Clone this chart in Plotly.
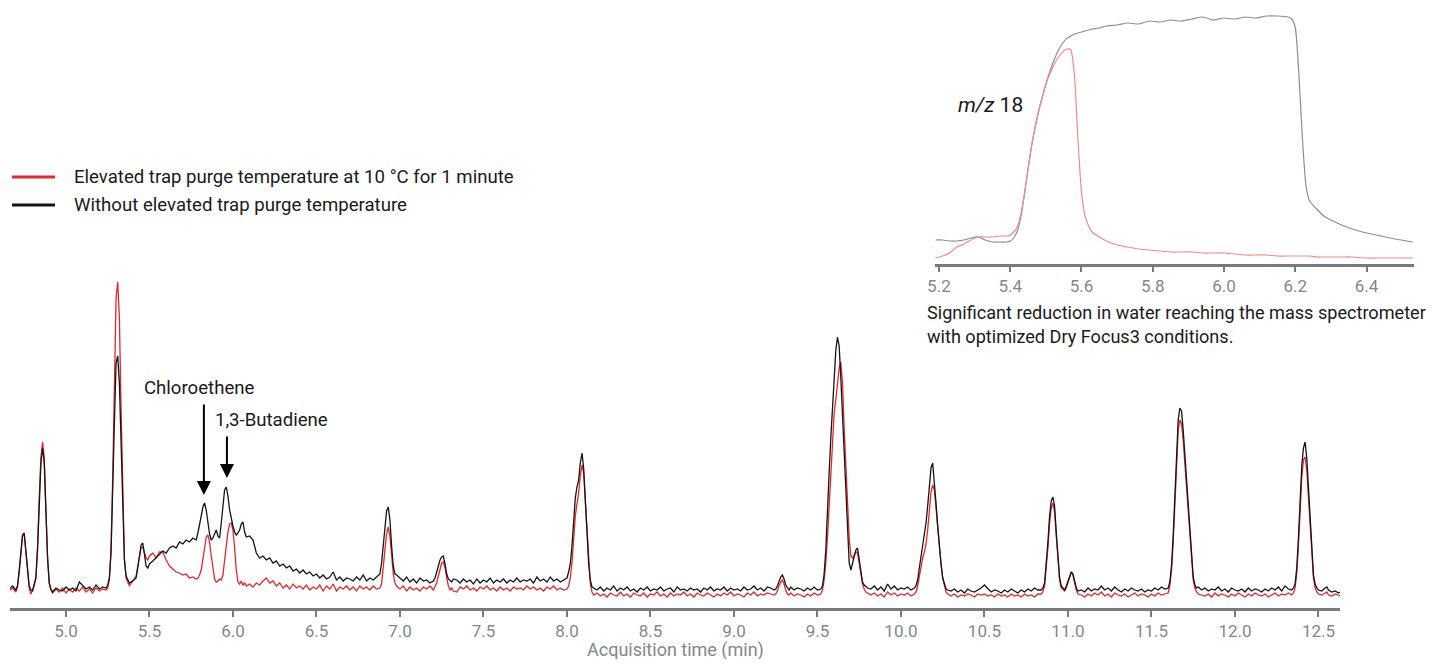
import plotly.graph_objects as go

# ---------------- main chromatogram data (acquisition time in min, signal in arbitrary units) ----------------
time_min = [
    4.66, 4.68, 4.70, 4.71, 4.72, 4.73, 4.74, 4.75, 4.76, 4.77,
    4.78, 4.79, 4.80, 4.81, 4.82, 4.83, 4.84, 4.85, 4.86, 4.87,
    4.88, 4.89, 4.90, 4.91, 4.92, 4.94, 4.96, 4.98, 5.00, 5.02,
    5.04, 5.06, 5.08, 5.10, 5.12, 5.14, 5.16, 5.18, 5.20, 5.22,
    5.24, 5.25, 5.26, 5.27, 5.28, 5.29, 5.30, 5.31, 5.32, 5.33,
    5.34, 5.35, 5.36, 5.37, 5.38, 5.40, 5.42, 5.43, 5.44, 5.45,
    5.46, 5.47, 5.48, 5.49, 5.50, 5.52, 5.54, 5.56, 5.58, 5.60,
    5.62, 5.64, 5.66, 5.68, 5.70, 5.72, 5.74, 5.76, 5.78, 5.79,
    5.80, 5.81, 5.82, 5.83, 5.84, 5.85, 5.86, 5.87, 5.88, 5.89,
    5.90, 5.91, 5.92, 5.93, 5.94, 5.95, 5.96, 5.97, 5.98, 5.99,
    6.00, 6.01, 6.02, 6.03, 6.04, 6.05, 6.06, 6.07, 6.08, 6.10,
    6.12, 6.14, 6.16, 6.18, 6.20, 6.22, 6.24, 6.26, 6.28, 6.30,
    6.32, 6.34, 6.36, 6.38, 6.40, 6.42, 6.44, 6.46, 6.48, 6.50,
    6.52, 6.54, 6.56, 6.58, 6.60, 6.62, 6.64, 6.66, 6.68, 6.70,
    6.72, 6.74, 6.76, 6.78, 6.80, 6.82, 6.84, 6.86, 6.88, 6.89,
    6.90, 6.91, 6.92, 6.93, 6.94, 6.95, 6.96, 6.97, 6.98, 7.00,
    7.02, 7.04, 7.06, 7.08, 7.10, 7.12, 7.14, 7.16, 7.18, 7.20,
    7.21, 7.22, 7.23, 7.24, 7.25, 7.26, 7.27, 7.28, 7.29, 7.30,
    7.31, 7.32, 7.34, 7.36, 7.38, 7.40, 7.42, 7.44, 7.46, 7.48,
    7.50, 7.52, 7.54, 7.56, 7.58, 7.60, 7.62, 7.64, 7.66, 7.68,
    7.70, 7.72, 7.74, 7.76, 7.78, 7.80, 7.82, 7.84, 7.86, 7.88,
    7.90, 7.92, 7.94, 7.96, 7.98, 8.00, 8.01, 8.02, 8.03, 8.04,
    8.05, 8.06, 8.07, 8.08, 8.09, 8.10, 8.11, 8.12, 8.13, 8.14,
    8.15, 8.16, 8.18, 8.20, 8.22, 8.24, 8.26, 8.28, 8.30, 8.32,
    8.34, 8.36, 8.38, 8.40, 8.42, 8.44, 8.46, 8.48, 8.50, 8.52,
    8.54, 8.56, 8.58, 8.60, 8.62, 8.64, 8.66, 8.68, 8.70, 8.72,
    8.74, 8.76, 8.78, 8.80, 8.82, 8.84, 8.86, 8.88, 8.90, 8.92,
    8.94, 8.96, 8.98, 9.00, 9.02, 9.04, 9.06, 9.08, 9.10, 9.12,
    9.14, 9.16, 9.18, 9.20, 9.22, 9.24, 9.25, 9.26, 9.27, 9.28,
    9.29, 9.30, 9.31, 9.32, 9.33, 9.34, 9.36, 9.38, 9.40, 9.42,
    9.44, 9.46, 9.48, 9.50, 9.52, 9.53, 9.54, 9.55, 9.56, 9.57,
    9.58, 9.59, 9.60, 9.61, 9.62, 9.63, 9.64, 9.65, 9.66, 9.67,
    9.68, 9.69, 9.70, 9.71, 9.72, 9.73, 9.74, 9.75, 9.76, 9.77,
    9.78, 9.79, 9.80, 9.82, 9.84, 9.86, 9.88, 9.90, 9.92, 9.94,
    9.96, 9.98, 10.00, 10.02, 10.04, 10.06, 10.08, 10.09, 10.10, 10.11,
    10.12, 10.13, 10.14, 10.15, 10.16, 10.17, 10.18, 10.19, 10.20, 10.21,
    10.22, 10.23, 10.24, 10.25, 10.26, 10.27, 10.28, 10.30, 10.32, 10.34,
    10.36, 10.38, 10.40, 10.42, 10.44, 10.46, 10.48, 10.50, 10.52, 10.54,
    10.56, 10.58, 10.60, 10.62, 10.64, 10.66, 10.68, 10.70, 10.72, 10.74,
    10.76, 10.78, 10.80, 10.82, 10.84, 10.85, 10.86, 10.87, 10.88, 10.89,
    10.90, 10.91, 10.92, 10.93, 10.94, 10.95, 10.96, 10.97, 10.98, 10.99,
    11.00, 11.01, 11.02, 11.03, 11.04, 11.05, 11.06, 11.08, 11.10, 11.12,
    11.14, 11.16, 11.18, 11.20, 11.22, 11.24, 11.26, 11.28, 11.30, 11.32,
    11.34, 11.36, 11.38, 11.40, 11.42, 11.44, 11.46, 11.48, 11.50, 11.52,
    11.54, 11.56, 11.58, 11.60, 11.61, 11.62, 11.63, 11.64, 11.65, 11.66,
    11.67, 11.68, 11.69, 11.70, 11.71, 11.72, 11.73, 11.74, 11.75, 11.76,
    11.77, 11.78, 11.80, 11.82, 11.84, 11.86, 11.88, 11.90, 11.92, 11.94,
    11.96, 11.98, 12.00, 12.02, 12.04, 12.06, 12.08, 12.10, 12.12, 12.14,
    12.16, 12.18, 12.20, 12.22, 12.24, 12.26, 12.28, 12.30, 12.32, 12.34,
    12.35, 12.36, 12.37, 12.38, 12.39, 12.40, 12.41, 12.42, 12.43, 12.44,
    12.45, 12.46, 12.47, 12.48, 12.49, 12.50, 12.52, 12.54, 12.55, 12.56,
    12.58, 12.60, 12.62, 12.63,
]

elevated_signal = [
    17, 20, 16, 22, 35, 55, 72, 74, 55, 32,
    20, 14, 19, 22, 30, 62, 110, 150, 166, 150,
    100, 50, 24, 18, 15, 19, 16, 20, 15, 19,
    16, 20, 17, 21, 16, 19, 15, 20, 17, 19,
    18, 20, 28, 60, 130, 230, 310, 326, 290, 200,
    110, 50, 30, 25, 22, 27, 32, 42, 52, 60,
    61, 54, 50, 48, 52, 55, 50, 56, 56, 48,
    42, 39, 36, 35, 33, 34, 30, 31, 29, 30,
    33, 38, 50, 62, 71, 73, 66, 52, 38, 29,
    26, 27, 29, 28, 33, 45, 62, 76, 84, 85,
    78, 60, 38, 26, 24, 27, 23, 25, 22, 24,
    21, 25, 23, 27, 30, 25, 27, 22, 25, 20,
    23, 19, 24, 20, 22, 19, 23, 18, 21, 19,
    23, 17, 22, 19, 24, 17, 21, 19, 22, 18,
    21, 17, 22, 19, 21, 18, 22, 19, 20, 24,
    38, 58, 74, 81, 72, 52, 34, 25, 22, 19,
    22, 17, 21, 18, 20, 17, 21, 19, 22, 18,
    21, 25, 32, 40, 45, 46, 40, 30, 22, 18,
    20, 17, 16, 21, 19, 22, 18, 20, 17, 21,
    19, 22, 18, 20, 17, 21, 18, 20, 17, 21,
    19, 20, 18, 22, 19, 21, 18, 20, 17, 21,
    19, 22, 18, 20, 18, 19, 22, 30, 45, 68,
    92, 104, 115, 132, 143, 135, 108, 72, 42, 24,
    16, 13, 15, 12, 14, 11, 15, 13, 12, 16,
    12, 14, 11, 15, 13, 12, 15, 11, 14, 13,
    16, 12, 14, 11, 15, 12, 14, 13, 16, 12,
    14, 11, 15, 13, 12, 15, 13, 11, 14, 12,
    15, 13, 16, 12, 14, 13, 11, 15, 13, 16,
    12, 14, 13, 15, 14, 13, 14, 17, 22, 26,
    28, 24, 18, 14, 13, 15, 12, 14, 13, 11,
    14, 12, 15, 13, 14, 18, 28, 45, 70, 105,
    140, 170, 195, 208, 225, 240, 246, 225, 180, 145,
    110, 70, 52, 50, 53, 56, 55, 45, 32, 24,
    19, 16, 15, 13, 15, 12, 14, 11, 16, 13,
    15, 12, 14, 13, 15, 12, 14, 16, 22, 32,
    42, 50, 56, 64, 78, 98, 116, 123, 118, 100,
    80, 60, 44, 30, 21, 16, 14, 12, 14, 11,
    13, 12, 14, 13, 11, 14, 13, 14, 12, 13,
    11, 14, 12, 13, 11, 14, 12, 13, 11, 14,
    12, 13, 11, 14, 14, 16, 22, 38, 60, 85,
    100, 105, 96, 72, 46, 28, 20, 18, 17, 20,
    26, 32, 36, 33, 25, 18, 14, 13, 11, 14,
    12, 15, 13, 16, 12, 14, 11, 15, 13, 12,
    14, 11, 13, 15, 12, 14, 13, 11, 14, 12,
    15, 13, 14, 15, 22, 38, 65, 100, 145, 178,
    188, 184, 168, 145, 125, 100, 70, 46, 28, 20,
    16, 14, 13, 12, 14, 11, 15, 12, 14, 13,
    11, 14, 12, 15, 13, 11, 14, 12, 15, 13,
    12, 14, 11, 13, 15, 12, 14, 13, 15, 13,
    15, 20, 35, 62, 98, 130, 148, 151, 138, 110,
    82, 52, 30, 20, 16, 14, 13, 15, 16, 13,
    12, 14, 13, 12,
]

standard_signal = [
    19, 22, 18, 22, 38, 58, 73, 75, 56, 33,
    22, 18, 17, 24, 30, 58, 104, 145, 160, 145,
    96, 50, 25, 19, 16, 20, 18, 17, 21, 18,
    20, 17, 26, 22, 19, 21, 18, 23, 19, 21,
    20, 23, 30, 55, 110, 185, 245, 252, 225, 165,
    95, 48, 32, 28, 25, 27, 30, 40, 52, 63,
    65, 55, 42, 40, 44, 47, 50, 54, 57, 55,
    60, 62, 60, 66, 64, 68, 66, 70, 68, 75,
    82, 92, 101, 105, 98, 85, 74, 68, 70, 74,
    78, 72, 70, 85, 105, 118, 121, 112, 98, 88,
    82, 76, 73, 75, 78, 84, 86, 76, 71, 72,
    68, 55, 50, 52, 48, 50, 45, 47, 42, 44,
    40, 42, 37, 39, 35, 38, 34, 36, 32, 34,
    30, 33, 29, 31, 36, 28, 31, 27, 30, 29,
    27, 31, 28, 33, 27, 30, 28, 31, 34, 45,
    62, 82, 97, 101, 88, 62, 42, 34, 33, 30,
    27, 31, 26, 29, 25, 30, 27, 28, 25, 27,
    30, 36, 42, 48, 51, 52, 44, 34, 29, 27,
    26, 29, 28, 25, 29, 26, 28, 24, 29, 25,
    28, 26, 30, 25, 28, 26, 29, 25, 28, 26,
    30, 26, 28, 27, 29, 25, 31, 27, 29, 26,
    31, 27, 29, 26, 28, 30, 36, 44, 62, 88,
    110, 121, 128, 145, 155, 140, 110, 72, 44, 28,
    21, 20, 18, 21, 17, 20, 18, 22, 17, 20,
    18, 21, 17, 19, 16, 20, 18, 21, 17, 19,
    18, 21, 17, 19, 20, 16, 21, 18, 19, 17,
    20, 18, 19, 16, 20, 18, 21, 17, 19, 18,
    21, 17, 20, 18, 19, 17, 21, 18, 19, 22,
    18, 20, 17, 21, 20, 18, 19, 22, 27, 31,
    33, 29, 23, 20, 18, 21, 18, 20, 19, 17,
    20, 18, 21, 18, 19, 22, 34, 58, 90, 135,
    170, 200, 230, 258, 271, 262, 230, 190, 150, 110,
    72, 45, 38, 44, 52, 58, 60, 48, 34, 26,
    23, 21, 20, 19, 22, 18, 21, 17, 24, 19,
    22, 18, 20, 19, 21, 18, 20, 22, 28, 40,
    52, 62, 72, 85, 102, 122, 140, 145, 128, 105,
    82, 60, 44, 30, 23, 19, 18, 17, 19, 16,
    18, 15, 19, 17, 16, 18, 20, 23, 19, 16,
    18, 17, 15, 18, 16, 19, 17, 15, 18, 16,
    19, 17, 20, 18, 18, 20, 25, 42, 66, 92,
    107, 111, 102, 76, 48, 30, 22, 20, 18, 22,
    27, 33, 36, 34, 26, 20, 17, 18, 16, 20,
    17, 19, 18, 22, 18, 20, 17, 21, 18, 16,
    19, 17, 20, 18, 17, 19, 16, 18, 17, 20,
    18, 21, 19, 20, 26, 42, 72, 108, 155, 188,
    200, 197, 178, 152, 135, 105, 74, 51, 31, 23,
    20, 21, 18, 20, 17, 19, 18, 21, 17, 19,
    16, 20, 18, 17, 19, 16, 20, 17, 19, 18,
    16, 19, 17, 20, 18, 21, 17, 22, 19, 18,
    20, 24, 40, 70, 108, 142, 160, 166, 150, 118,
    88, 56, 33, 24, 20, 18, 17, 20, 21, 18,
    16, 17, 15, 16,
]

# ---------------- inset (m/z 18) data ----------------
inset_time = [
    5.19, 5.21, 5.23, 5.25, 5.27, 5.29, 5.31, 5.33, 5.35, 5.37,
    5.39, 5.40, 5.41, 5.42, 5.43, 5.44, 5.45, 5.46, 5.47, 5.48,
    5.49, 5.50, 5.51, 5.52, 5.53, 5.54, 5.55, 5.56, 5.57, 5.58,
    5.59, 5.60, 5.61, 5.62, 5.63, 5.65, 5.67, 5.70, 5.73, 5.76,
    5.79, 5.82, 5.85, 5.88, 5.91, 5.94, 5.97, 6.00, 6.03, 6.06,
    6.09, 6.12, 6.15, 6.18, 6.19, 6.20, 6.21, 6.22, 6.23, 6.24,
    6.26, 6.28, 6.30, 6.33, 6.36, 6.40, 6.44, 6.48, 6.53,
]
inset_standard = [
    24, 24, 23, 23, 24, 26, 27, 24, 22, 22,
    22, 23, 26, 33, 47, 70, 95, 118, 137, 153,
    167, 180, 191, 201, 210, 217, 222, 226, 228, 230,
    231, 232, 233, 234, 235, 236, 238, 239, 241, 240,
    243, 242, 244, 243, 245, 247, 244, 246, 245, 247,
    246, 248, 248, 247, 245, 236, 190, 125, 78, 63,
    55, 48, 44, 39, 35, 31, 28, 25, 22,
]
inset_elevated = [
    6, 8, 11, 17, 20, 24, 27, 27, 27, 28,
    28, 29, 32, 37, 50, 70, 95, 118, 137, 153,
    167, 180, 189, 197, 204, 209, 213, 215, 214, 190,
    125, 72, 48, 38, 32, 27, 23, 19, 17, 15,
    14, 13, 12, 12, 12, 11, 11, 11, 10, 9,
    9, 9, 8, 8, 8, 8, 8, 8, 8, 8,
    7, 7, 7, 7, 7, 6, 6, 6, 6,
]

main_ticks = [5.0, 5.5, 6.0, 6.5, 7.0, 7.5, 8.0, 8.5, 9.0, 9.5, 10.0, 10.5, 11.0, 11.5, 12.0, 12.5]
inset_ticks = [5.2, 5.4, 5.6, 5.8, 6.0, 6.2, 6.4]

series_names = ["Elevated trap purge temperature at 10 °C for 1 minute",
                "Without elevated trap purge temperature"]
x_title = "Acquisition time (min)"

assert len(time_min) == len(elevated_signal) == len(standard_signal), (
    len(time_min), len(elevated_signal), len(standard_signal))
assert len(inset_time) == len(inset_standard) == len(inset_elevated)

RED = "#e5262b"
BLACK = "#151515"
GRAY_TXT = "#83878c"
AXIS = "#777b80"
FONT = "Roboto, 'Noto Sans', sans-serif"
TXT = 18.6

# the page body adds an 8 px margin around the figure
OFF = 8
W, H = 1444 - 2 * OFF, 667 - 2 * OFF
ML, MR, MT, MB = 2, 16, 2, 51
PW = W - ML - MR
PH = H - MT - MB


def px_to_paper_x(px):
    return (px - OFF - ML) / PW


def px_to_paper_y(py):
    return (H - MB - (py - OFF)) / PH


fig = go.Figure()

fig.add_trace(go.Scatter(x=time_min, y=elevated_signal, mode="lines", name=series_names[0],
                         line=dict(color=RED, width=1.3), showlegend=False,
                         xaxis="x", yaxis="y"))
fig.add_trace(go.Scatter(x=time_min, y=standard_signal, mode="lines", name=series_names[1],
                         line=dict(color=BLACK, width=1.3), showlegend=False,
                         xaxis="x", yaxis="y"))

fig.add_trace(go.Scatter(x=inset_time, y=inset_standard, mode="lines", name="m/z 18 without",
                         line=dict(color="#8e8e8e", width=1.2, shape="spline", smoothing=0.6),
                         showlegend=False, xaxis="x2", yaxis="y2"))
fig.add_trace(go.Scatter(x=inset_time, y=inset_elevated, mode="lines", name="m/z 18 elevated",
                         line=dict(color="#f28b8b", width=1.2, shape="spline", smoothing=0.6),
                         showlegend=False, xaxis="x2", yaxis="y2"))

main_x_domain = [0, px_to_paper_x(1340)]
inset_x_domain = [px_to_paper_x(935), px_to_paper_x(1414)]
inset_y_domain = [px_to_paper_y(264), 1.0]

fig.update_layout(
    width=W, height=H,
    margin=dict(l=ML, r=MR, t=MT, b=MB, autoexpand=False),
    paper_bgcolor="white", plot_bgcolor="rgba(0,0,0,0)",
    font=dict(family=FONT, size=TXT, color="#1a1a1a"),
    showlegend=False,
    xaxis=dict(domain=main_x_domain, range=[4.665, 12.629], tickvals=main_ticks,
               ticktext=[f"{v:.1f}" for v in main_ticks],
               showline=True, linecolor=AXIS, linewidth=3, showgrid=False, zeroline=False,
               ticks="outside", ticklen=6, tickwidth=1.5, tickcolor=AXIS,
               tickfont=dict(size=17, color=GRAY_TXT, family=FONT),
               anchor="y", automargin=False, fixedrange=True),
    yaxis=dict(domain=[0, 1], range=[0, PH], visible=False, fixedrange=True, anchor="x"),
    xaxis2=dict(domain=inset_x_domain, range=[5.189, 6.533], tickvals=inset_ticks,
                ticktext=[f"{v:.1f}" for v in inset_ticks],
                showline=True, linecolor=AXIS, linewidth=2.5, showgrid=False, zeroline=False,
                ticks="outside", ticklen=5, tickwidth=1.5, tickcolor=AXIS,
                tickfont=dict(size=17, color=GRAY_TXT, family=FONT),
                anchor="y2", automargin=False, fixedrange=True),
    yaxis2=dict(domain=inset_y_domain, range=[0, 254], visible=False, fixedrange=True, anchor="x2"),
)

# x-axis title (placed as text so it sits low in the tight bottom margin, as in the reference)
fig.add_annotation(xref="paper", yref="paper", x=px_to_paper_x(675), y=px_to_paper_y(650),
                   text=x_title, showarrow=False, xanchor="center", yanchor="middle",
                   font=dict(size=18, color=GRAY_TXT, family=FONT))

# legend keys drawn as paper-anchored line samples with text
legend_rows = [(177, RED), (205, BLACK)]
for (py, col), label in zip(legend_rows, series_names):
    fig.add_shape(type="line", xref="paper", yref="paper",
                  x0=px_to_paper_x(12), x1=px_to_paper_x(55),
                  y0=px_to_paper_y(py), y1=px_to_paper_y(py),
                  line=dict(color=col, width=3))
    fig.add_annotation(xref="paper", yref="paper", x=px_to_paper_x(72), y=px_to_paper_y(py),
                       text=label, showarrow=False, xanchor="left", yanchor="middle",
                       font=dict(size=TXT, color="#1a1a1a", family=FONT))

# peak labels with arrows
fig.add_annotation(xref="x", yref="y", x=5.826, y=113, ax=0, ay=-92, axref="pixel", ayref="pixel",
                   text="", showarrow=True, arrowhead=2, arrowsize=1.4, arrowwidth=2,
                   arrowcolor="#000000", standoff=0)
fig.add_annotation(xref="x", yref="y", x=5.799, y=220, text="Chloroethene", showarrow=False,
                   xanchor="center", yanchor="middle", font=dict(size=TXT, color="#1a1a1a", family=FONT))
fig.add_annotation(xref="x", yref="y", x=5.964, y=130, ax=0, ay=-43, axref="pixel", ayref="pixel",
                   text="", showarrow=True, arrowhead=2, arrowsize=1.4, arrowwidth=2,
                   arrowcolor="#000000", standoff=0)
fig.add_annotation(xref="x", yref="y", x=6.228, y=188, text="1,3-Butadiene", showarrow=False,
                   xanchor="center", yanchor="middle", font=dict(size=TXT, color="#1a1a1a", family=FONT))

# inset texts
fig.add_annotation(xref="paper", yref="paper", x=px_to_paper_x(990), y=px_to_paper_y(105),
                   text="<i>m/z</i> 18", showarrow=False, xanchor="center", yanchor="middle",
                   font=dict(size=21, color="#1a1a1a", family=FONT))
fig.add_annotation(xref="paper", yref="paper", x=px_to_paper_x(925), y=px_to_paper_y(324.5),
                   text="Significant reduction in water reaching the mass spectrometer<br>"
                        "with optimized Dry Focus3 conditions.",
                   showarrow=False, xanchor="left", yanchor="middle", align="left",
                   font=dict(size=18.1, color="#1a1a1a", family=FONT))

fig.write_html("out.html")
